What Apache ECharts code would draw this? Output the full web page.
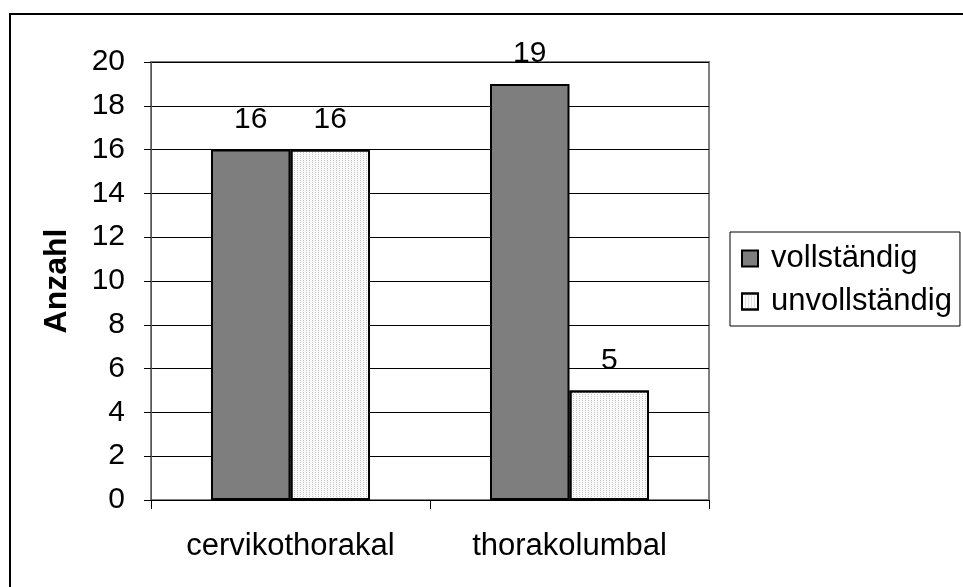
<!DOCTYPE html>
<html>
<head>
<meta charset="utf-8">
<script src="https://cdn.jsdelivr.net/npm/echarts@6/dist/echarts.min.js"></script>
<style>
  html, body { margin: 0; padding: 0; background: #fff; }
  #chart { width: 963px; height: 587px; }
</style>
</head>
<body>
<div id="chart"></div>
<script>
var categories = ['cervikothorakal', 'thorakolumbal'];
var vollstaendig = [16, 19];
var unvollstaendig = [16, 5];
var seriesNames = ['vollständig', 'unvollständig'];

var chartDom = document.getElementById('chart');
var myChart = echarts.init(chartDom);
var font = 'Liberation Sans, Arial, sans-serif';

var option = {
  animation: false,
  backgroundColor: '#fff',
  textStyle: { fontFamily: font },
  graphic: [
    {
      type: 'rect',
      shape: { x: 10, y: 14, width: 960, height: 580 },
      style: { fill: 'none', stroke: '#000', lineWidth: 2 },
      z: 100
    }
  ],
  grid: {
    show: true,
    left: 151,
    top: 62,
    right: 254,
    bottom: 87,
    containLabel: false,
    borderColor: '#808080',
    borderWidth: 2
  },
  legend: {
    orient: 'vertical',
    left: 730,
    top: 232,
    padding: [11, 8, 9, 11],
    itemGap: 12,
    itemWidth: 16,
    itemHeight: 16,
    borderColor: '#000',
    borderWidth: 1,
    icon: 'rect',
    data: seriesNames,
    textStyle: { fontFamily: font, fontSize: 31, color: '#000', padding: [0, 0, 0, 8] }
  },
  xAxis: {
    type: 'category',
    data: categories,
    axisLine: { lineStyle: { color: '#000', width: 1 } },
    axisTick: { show: true, length: 9, lineStyle: { color: '#000' } },
    axisLabel: { interval: 0, hideOverlap: false, fontFamily: font, fontSize: 31, color: '#000', margin: 31 }
  },
  yAxis: {
    type: 'value',
    min: 0,
    max: 20,
    interval: 2,
    name: 'Anzahl',
    nameLocation: 'middle',
    nameGap: 78,
    nameTextStyle: { fontFamily: font, fontSize: 32, fontWeight: 'bold', color: '#000' },
    axisLine: { show: true, lineStyle: { color: '#555', width: 1 } },
    axisTick: { show: true, length: 7, lineStyle: { color: '#000' } },
    axisLabel: { fontFamily: font, fontSize: 30, color: '#000', margin: 26 },
    splitLine: { lineStyle: { color: '#000', width: 1 } }
  },
  series: [
    {
      name: seriesNames[0],
      type: 'bar',
      data: vollstaendig,
      barGap: '0%',
      barCategoryGap: '43%',
      itemStyle: { color: '#7e7e7e', borderColor: '#000', borderWidth: 2 },
      label: { show: true, position: 'top', distance: 15, fontFamily: font, fontSize: 30, color: '#000' }
    },
    {
      name: seriesNames[1],
      type: 'bar',
      data: unvollstaendig,
      itemStyle: {
        color: '#fafafa',
        borderColor: '#000',
        borderWidth: 2,
        decal: {
          symbol: 'rect',
          symbolSize: 1,
          color: '#c4c4c4',
          dashArrayX: [1, 2],
          dashArrayY: [1, 1],
          rotation: 0
        }
      },
      label: { show: true, position: 'top', distance: 15, fontFamily: font, fontSize: 30, color: '#000' }
    }
  ]
};

option && myChart.setOption(option);
</script>
</body>
</html>
